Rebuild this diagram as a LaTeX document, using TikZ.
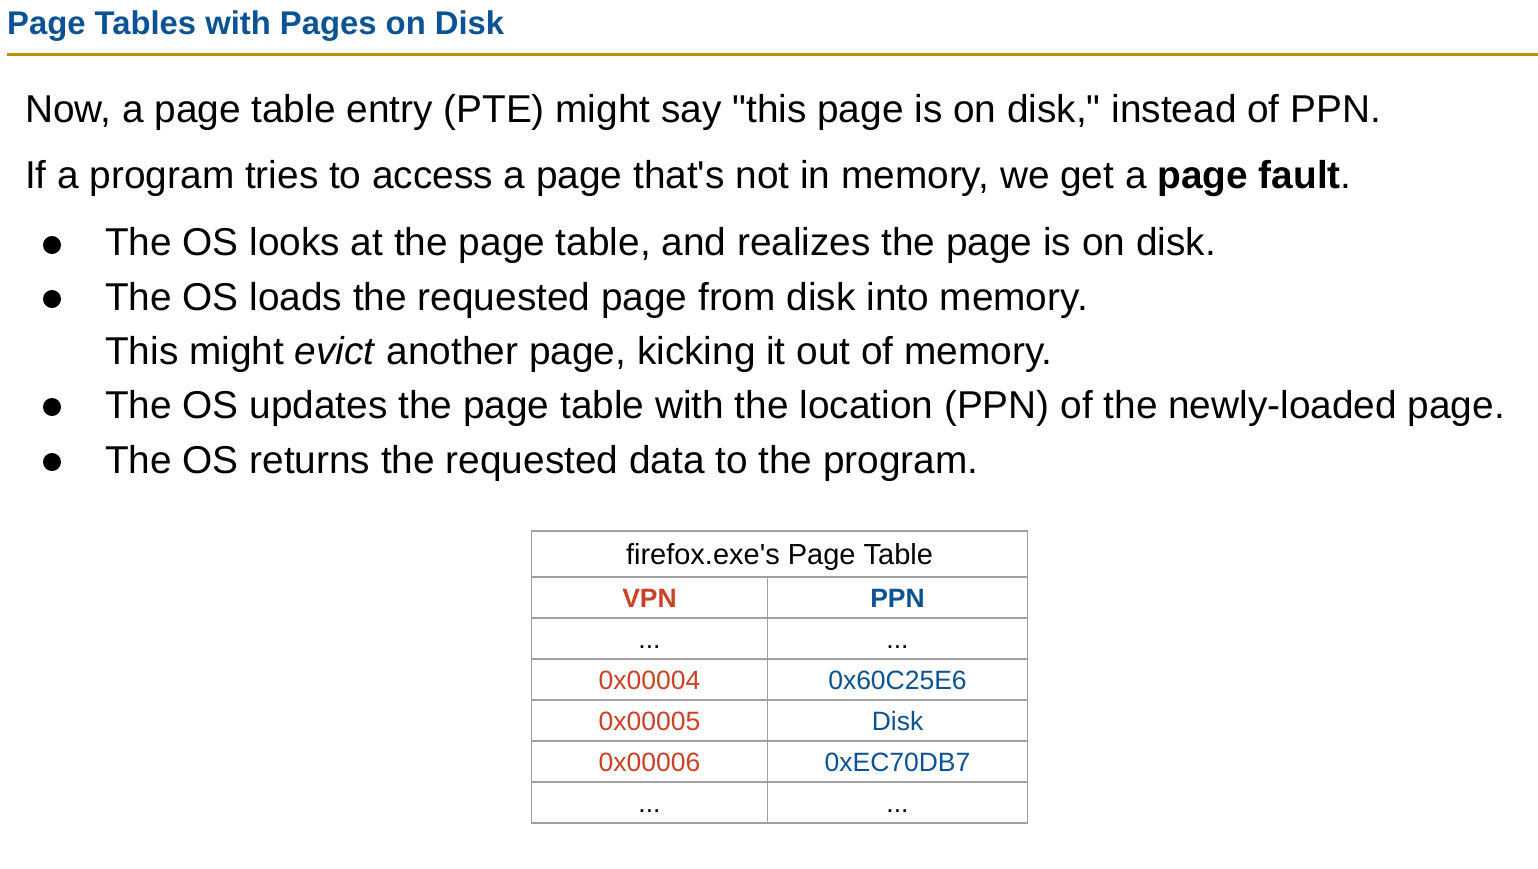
\documentclass[tikz,border=0pt]{standalone}
\usepackage{fontspec}
\usetikzlibrary{positioning}
\newfontfamily\rob{Liberation Sans}
\definecolor{slideblue}{HTML}{0B5394}
\definecolor{slidegold}{HTML}{BF9000}
\definecolor{vpnred}{HTML}{CC4125}
\definecolor{cellgray}{HTML}{A0A0A0}
\tikzset{line/.style={anchor=base west, inner sep=0pt, font=\rob\fontsize{38.8}{44}\selectfont}}
\tikzset{heading/.style={anchor=base west, inner sep=0pt, text=slideblue, font=\rob\bfseries\fontsize{32.8}{38}\selectfont}}
\tikzset{dot/.style={circle, fill=black, inner sep=0pt, minimum size=18pt}}
\tikzset{cell/.style={draw=cellgray, line width=1.5pt, outer sep=0pt, inner sep=0pt, minimum height=41pt, text height=26pt, text depth=7pt, font=\rob\fontsize{26.5}{30}\selectfont}}
\tikzset{vpn/.style={cell, minimum width=236pt, text=vpnred}}
\tikzset{ppn/.style={cell, minimum width=260pt, text=slideblue}}

\begin{document}
\begin{tikzpicture}[x=1pt, y=-1pt]
  \useasboundingbox (0,0) rectangle (1538,868);

  \node[heading] (title) at (7,34) {Page Tables with Pages on Disk};
  \draw[slidegold, line width=3pt] (7,54) -- (1538,54);

  \node[line] (now) at (25,122) {Now, a page table entry (PTE) might say "this page is on disk," instead of PPN.};
  \node[line] (fault) at (25,188) {If a program tries to access a page that's not in memory, we get a \textbf{page fault}.};

  \node[dot] (d1) at (52,245) {};
  \node[line] (b1) at (105,255) {The OS looks at the page table, and realizes the page is on disk.};
  \node[dot] (d2) at (52,299) {};
  \node[line] (b2) at (105,310) {The OS loads the requested page from disk into memory.};
  \node[line] (b2x) at (105,364) {This might \textit{evict} another page, kicking it out of memory.};
  \node[dot] (d3) at (52,407) {};
  \node[line] (b3) at (105,418) {The OS updates the page table with the location (PPN) of the newly-loaded page.};
  \node[dot] (d4) at (52,462) {};
  \node[line] (b4) at (105,473) {The OS returns the requested data to the program.};

  % the page table
  \node[cell, minimum width=496pt, minimum height=46pt, text height=27pt, font=\rob\fontsize{29}{33}\selectfont] (H) [anchor=north west] at (531.5,531) {firefox.exe's Page Table};
  \node[vpn] (V0) [below right=0pt and 0pt of H.south west] {\bfseries VPN};
  \node[ppn] (P0) [right=0pt of V0] {\bfseries PPN};
  \node[vpn, text=black] (V1) [below=0pt of V0] {...};
  \node[ppn, text=black] (P1) [right=0pt of V1] {...};
  \node[vpn] (V2) [below=0pt of V1] {0x00004};
  \node[ppn] (P2) [right=0pt of V2] {0x60C25E6};
  \node[vpn] (V3) [below=0pt of V2] {0x00005};
  \node[ppn] (P3) [right=0pt of V3] {Disk};
  \node[vpn] (V4) [below=0pt of V3] {0x00006};
  \node[ppn] (P4) [right=0pt of V4] {0xEC70DB7};
  \node[vpn, text=black] (V5) [below=0pt of V4] {...};
  \node[ppn, text=black] (P5) [right=0pt of V5] {...};
\end{tikzpicture}
\end{document}
